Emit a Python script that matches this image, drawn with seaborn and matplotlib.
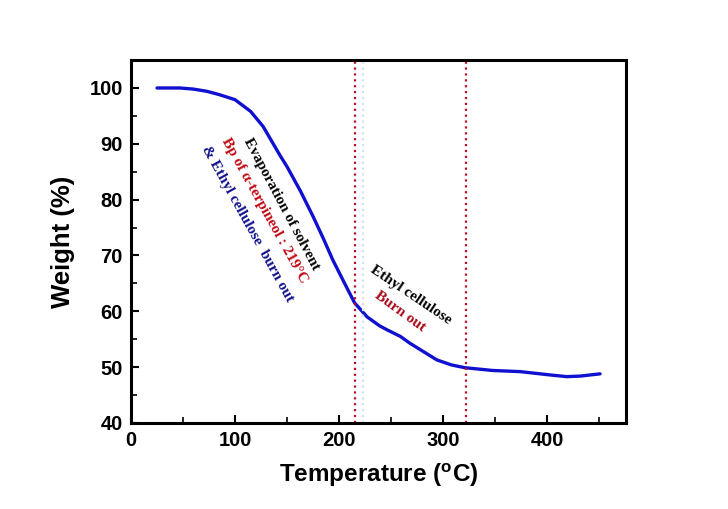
import numpy as np
import pandas as pd
import seaborn as sns
from matplotlib import pyplot as plt
from matplotlib.ticker import MultipleLocator

# TGA curve
temp = [25, 47, 60, 73, 85, 100, 115, 127, 143, 150, 163, 175, 185, 194,
        207, 215, 227, 239, 246, 259, 268, 281, 294, 308, 321, 348, 374,
        403, 419, 432, 451]
weight = [100, 100, 99.8, 99.4, 98.8, 97.9, 95.8, 93.1, 88.0, 85.9, 81.5,
          77.0, 73.0, 69.2, 64.4, 61.5, 59.0, 57.4, 56.7, 55.5, 54.3, 52.8,
          51.3, 50.4, 49.9, 49.4, 49.2, 48.6, 48.3, 48.4, 48.8]
vlines = [215, 322]

sns.set_style('ticks')
plt.rcParams['font.family'] = ['Liberation Sans', 'DejaVu Sans']
plt.rcParams['mathtext.fontset'] = 'custom'
plt.rcParams['mathtext.rm'] = 'Liberation Sans:bold'
plt.rcParams['mathtext.bf'] = 'Liberation Sans:bold'
plt.rcParams['text.color'] = 'black'
plt.rcParams['axes.labelcolor'] = 'black'
plt.rcParams['xtick.color'] = 'black'
plt.rcParams['ytick.color'] = 'black'
plt.rcParams['axes.edgecolor'] = 'black'

df = pd.DataFrame({'temp': temp, 'weight': weight})

fig = plt.figure(figsize=(7.28, 5.09), dpi=100)
ax = fig.add_axes([0.18, 0.169, 0.68, 0.713])

sns.lineplot(data=df, x='temp', y='weight', ax=ax, color='#1010d0',
             linewidth=2.4, sort=False)

for v in vlines:
    ax.axvline(v, color='#b8102a', linestyle=':', linewidth=1.6)
ax.axvline(vlines[0] + 8, color='#cfe3f7', linestyle=':', linewidth=1.6)

ax.set_xlim(0, 476)
ax.set_ylim(40, 105)
ax.xaxis.set_major_locator(MultipleLocator(100))
ax.xaxis.set_minor_locator(MultipleLocator(50))
ax.yaxis.set_major_locator(MultipleLocator(10))
ax.yaxis.set_minor_locator(MultipleLocator(5))
ax.tick_params(which='major', direction='in', length=6, width=1.5,
               labelsize=14.5, pad=6)
ax.tick_params(which='minor', direction='in', length=4, width=1.2)
for lbl in ax.get_xticklabels() + ax.get_yticklabels():
    lbl.set_fontweight('bold')
for s in ax.spines.values():
    s.set_linewidth(2.2)
    s.set_color('black')
    s.set_visible(True)

ax.set_xlabel(r'Temperature ($^{\mathrm{o}}$C)', fontsize=17.5,
              fontweight='bold', labelpad=8)
ax.set_ylabel('Weight (%)', fontsize=18.5, fontweight='bold', labelpad=10)

serif = dict(family='Liberation Serif', fontweight='bold', fontsize=11,
             ha='center', va='center', rotation_mode='anchor')
ax.text(145, 79.2, 'Evaporation of solvent', color='black', rotation=-62, **serif)
ax.text(128, 78.0, 'Bp of \u03b1-terpineol : 219\u00b0C', color='#c00a14',
        rotation=-61, **serif)
ax.text(112, 75.6, '& Ethyl cellulose  burn out', color='#10108c',
        rotation=-61, **serif)
ax.text(269, 62.9, 'Ethyl cellulose', color='black', rotation=-34, **serif)
ax.text(258.7, 60.0, 'Burn out', color='#a80a18', rotation=-36, **serif)

fig.savefig('out.png', dpi=100)
